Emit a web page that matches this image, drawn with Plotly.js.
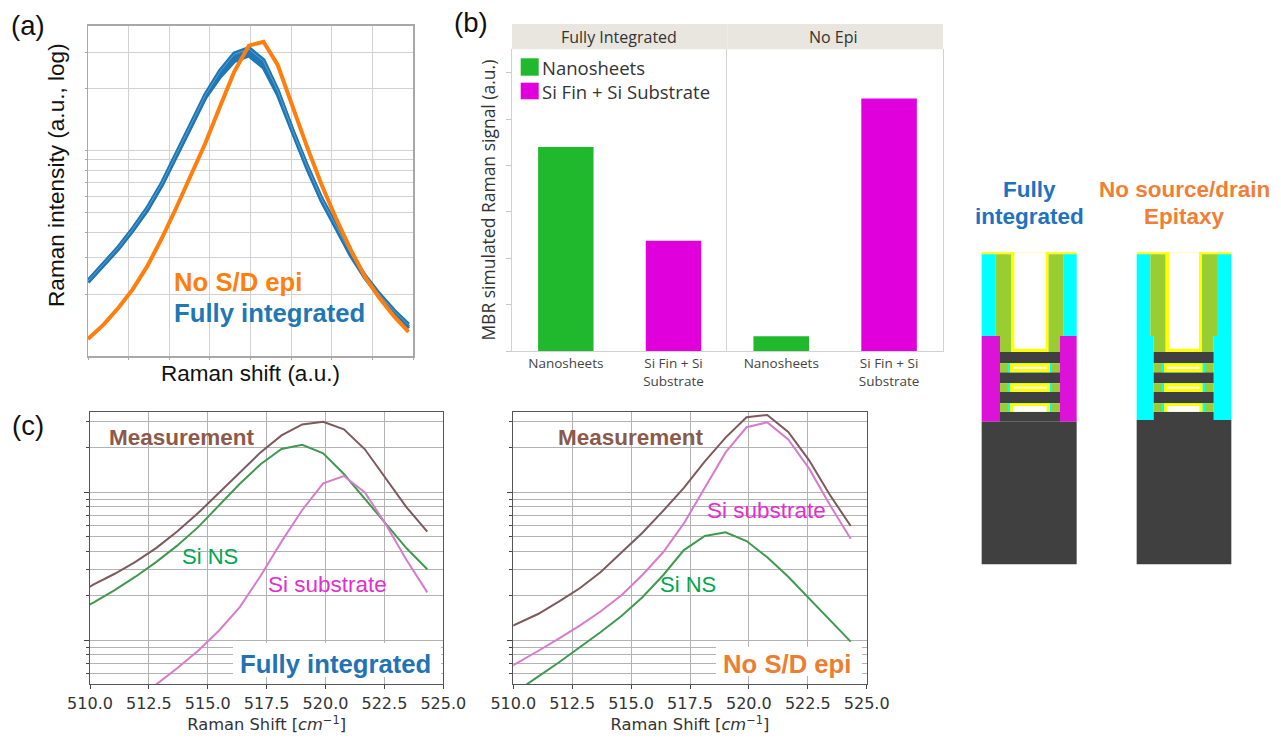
<!DOCTYPE html>
<html>
<head>
<meta charset="utf-8">
<script src="https://cdn.plot.ly/plotly-3.0.1.min.js"></script>
<style>html,body{margin:0;padding:0;background:#fff;overflow:hidden}#chart{width:1281px;height:739px}</style>
</head>
<body>
<div id="chart"></div>
<script>
// ---------- Panel (a): Raman shift (a.u.), intensities read as log10 ----------
const aShift = [0.0,0.39,0.75,1.10,1.46,1.82,2.17,2.53,2.89,3.25,3.60,3.96,4.32,4.67,5.03,5.39,5.75,6.10,6.46,6.82,7.17,7.53,7.89];
const aNoEpiLog = [.083,.154,.235,.324,.437,.574,.720,.874,1.036,1.214,1.383,1.510,1.529,1.416,1.214,1.019,.833,.672,.520,.385,.283,.194,.117];
const aFullyUpperLog = [.366,.448,.530,.619,.720,.842,.980,1.127,1.273,1.388,1.472,1.498,1.440,1.293,1.102,.927,.766,.639,.503,.390,.302,.222,.154];
const aFullyMidLog = [.363,.445,.526,.615,.715,.837,.974,1.120,1.265,1.372,1.453,1.480,1.424,1.286,1.097,.922,.761,.634,.498,.385,.295,.214,.142];
const aFullyLowerLog = [.359,.441,.522,.610,.710,.832,.968,1.113,1.257,1.358,1.434,1.462,1.404,1.272,1.088,.915,.755,.628,.492,.380,.289,.207,.133];
const aFullyLightLog = [.364,.447,.528,.617,.718,.840,.977,1.124,1.270,1.383,1.468,1.494,1.434,1.290,1.100,.925,.764,.637,.501,.388,.300,.220,.151];

// ---------- Panel (b) ----------
const bCategories = ['Nanosheets', 'Si Fin + Si<br>Substrate'];
const bFullyIntegrated = [4.40, 2.38];
const bNoEpi = [0.32, 5.45];
const bColors = ['#20b92e', '#e000dc'];

// ---------- Panel (c) ----------
const cShift = [509.28,510.16,511.05,511.93,512.82,513.70,514.59,515.47,516.36,517.24,518.13,519.01,519.90,520.78,521.67,522.55,523.44,524.32];
const c1MeasLog = [.295,.378,.450,.530,.625,.735,.860,.995,1.135,1.270,1.385,1.459,1.477,1.426,1.291,1.095,.899,.734];
const c1NsLog   = [.182,.257,.340,.430,.530,.640,.765,.910,1.058,1.190,1.293,1.322,1.264,1.124,.955,.786,.622,.480];
const c1SubLog  = [-.76,-.651,-.538,-.414,-.297,-.189,-.070,.065,.225,.435,.667,.881,1.061,1.110,1.0,.786,.543,.324];
const c2MeasLog = [.047,.110,.178,.262,.352,.460,.590,.725,.875,1.030,1.210,1.370,1.507,1.523,1.408,1.218,.982,.773];
const c2NsLog   = [-.44,-.340,-.245,-.150,-.050,.055,.165,.290,.440,.610,.705,.730,.671,.561,.430,.284,.137,-.009];
const c2SubLog  = [-.234,-.155,-.072,.012,.100,.195,.305,.440,.595,.790,1.030,1.270,1.440,1.473,1.358,1.162,.914,.687];

const aGridVals = [2,3,4,5,6,7,8,9,10,20,30];
const cMajorVals = [1,10];
const cMinorVals = [.5,.6,.7,.8,.9,2,3,4,5,6,7,8,9,20,30];
const cTickVals = [510,512.5,515,517.5,520,522.5,525];

// ---------- Schematic rectangles: [x0,y0,x1,y1,colour] in local drawing units ----------
const DARK='#404040', CYAN='#00ffff', OLIVE='#9acd32', YEL='#ffff00', MAG='#dd12d8', WHITE='#ffffff';
function gapFill(x0,xa,xb,xc,xd,x1,y0,y1,openBottom){
  return [
    [x0,y0,x1,y1,OLIVE],
    [xa,y0,xd,y1,CYAN],
    [xb,y0,xc,y1,YEL],
    [xb+10,y0+(openBottom?8:10),xc-10,y1-(openBottom?0:10),WHITE]
  ];
}
const deviceLeft = [
  [65,247,350,253,YEL],
  [65,253,106,498,CYAN],[311,253,350,498,CYAN],
  [106,253,153,498,OLIVE],[265,253,311,498,OLIVE],
  [120,498,153,546,OLIVE],[265,498,300,546,OLIVE],
  [153,247,265,546,YEL],[163,247,257,536,WHITE],
  [65,498,120,755,MAG],[300,498,350,755,MAG],
  [120,546,300,580,DARK],[120,607,300,640,DARK],[120,666,300,700,DARK],[120,725,300,755,DARK],
  ...gapFill(120,143,150,270,275,300,580,607),
  ...gapFill(120,143,150,270,275,300,640,666),
  ...gapFill(120,143,150,270,275,300,700,725,true),
  [65,755,350,1183,DARK]
];
const deviceRight = [
  [530,247,814,253,YEL],
  [530,253,571,498,CYAN],[771,253,814,498,CYAN],
  [571,253,617,498,OLIVE],[725,253,771,498,OLIVE],
  [581,498,617,546,OLIVE],[725,498,761,546,OLIVE],
  [617,247,725,546,YEL],[627,247,717,536,WHITE],
  [530,498,581,750,CYAN],[761,498,814,750,CYAN],
  [581,546,761,580,DARK],[581,607,761,640,DARK],[581,666,761,700,DARK],[581,725,761,750,DARK],
  ...gapFill(581,605,612,728,735,761,580,607),
  ...gapFill(581,605,612,728,735,761,640,666),
  ...gapFill(581,605,612,728,735,761,700,725,true),
  [530,750,814,1183,DARK]
];

// ---------- helpers ----------
const W=1281, H=739;
const ARIAL='"Liberation Sans", Arial, sans-serif', OPEN='"Open Sans", sans-serif', DEJA='"DejaVu Sans", sans-serif';
const dx=(a,b)=>[a/W,b/W];
const dy=(top,bot)=>[1-bot/H,1-top/H];
const toI = arr => arr.map(v=>Math.pow(10,v));
function ann(text,cx,cy,size,color,extra){
  return Object.assign({text,x:cx/W,y:1-cy/H,xref:'paper',yref:'paper',xanchor:'center',yanchor:'middle',
    showarrow:false,font:{family:ARIAL,size,color}},extra||{});
}
function line(x,y,xa,ya,color,width,name){
  return {type:'scatter',mode:'lines',x,y,xaxis:xa,yaxis:ya,name,showlegend:false,hoverinfo:'skip',
    line:{color,width,shape:'linear'}};
}
function bar(cats,vals,xa,ya,name){
  return {type:'bar',x:cats,y:vals,xaxis:xa,yaxis:ya,name,showlegend:false,width:0.515,
    marker:{color:bColors,line:{width:0}},hoverinfo:'skip'};
}
const BROWN='#7d5a5c', GREEN='#3f9a4f', PINK='#d67ccb';

const traces = [
  line(aShift,toI(aFullyUpperLog),'x','y','#1f77b4',4,'Fully integrated'),
  line(aShift,toI(aFullyLowerLog),'x','y','#1f77b4',4,'Fully integrated'),
  line(aShift,toI(aFullyMidLog),'x','y','#1f77b4',4,'Fully integrated'),
  line(aShift,toI(aFullyLightLog),'x','y','#6fa9d4',0.8,'Fully integrated'),
  line(aShift,toI(aNoEpiLog),'x','y','#ff7f0e',4,'No S/D epi'),
  bar(bCategories,bFullyIntegrated,'x2','y2','Fully Integrated'),
  bar(bCategories,bNoEpi,'x3','y3','No Epi'),
  line(cShift,toI(c1NsLog),'x4','y4',GREEN,2,'Si NS'),
  line(cShift,toI(c1SubLog),'x4','y4',PINK,2,'Si substrate'),
  line(cShift,toI(c1MeasLog),'x4','y4',BROWN,2,'Measurement'),
  line(cShift,toI(c2NsLog),'x5','y5',GREEN,2,'Si NS'),
  line(cShift,toI(c2SubLog),'x5','y5',PINK,2,'Si substrate'),
  line(cShift,toI(c2MeasLog),'x5','y5',BROWN,2,'Measurement')
];

const GRIDC='#b2b2b2';
const cXAxis = (dom,anchor) => ({
  domain:dom,anchor,range:[510,525],tickvals:cTickVals,tickformat:'.1f',
  showgrid:true,gridcolor:GRIDC,gridwidth:1,showline:true,mirror:true,linecolor:'#555',linewidth:1,
  ticks:'outside',ticklen:4,tickcolor:'#444',tickfont:{family:DEJA,size:16,color:'#333'},
  title:{text:'Raman Shift [<i>cm</i><sup>−1</sup>]',font:{family:DEJA,size:16.3,color:'#333'},standoff:7},zeroline:false
});
const cYAxis = (anchor) => ({
  domain:dy(411.7,684.3),anchor,type:'log',range:[-0.297,1.545],tickvals:cMajorVals,showticklabels:false,
  showgrid:true,gridcolor:GRIDC,gridwidth:1,ticks:'outside',ticklen:5,tickcolor:'#444',
  minor:{tickvals:cMinorVals,showgrid:true,gridcolor:GRIDC,gridwidth:1,ticks:'outside',ticklen:3,tickcolor:'#444'},
  showline:true,mirror:true,linecolor:'#555',linewidth:1,zeroline:false
});
const bX = (dom,anchor)=>({domain:dom,anchor,type:'category',range:[-0.5,1.5],showgrid:false,zeroline:false,
  showline:true,linecolor:'#d2d2d2',linewidth:1,ticks:'',tickangle:0,tickfont:{family:OPEN,size:13.5,color:'#444'}});

const rect=(x0,y0,x1,y1,fill,stroke)=>({type:'rect',xref:'paper',yref:'paper',x0:x0/W,x1:x1/W,y0:1-y1/H,y1:1-y0/H,
  fillcolor:fill,line:stroke?{color:stroke,width:1.2}:{width:0},layer:'above'});
const devShape = r => rect(960+r[0]/3,170+r[1]/3,960+r[2]/3,170+r[3]/3,r[4]);

const layout = {
  width:W,height:H,margin:{l:0,r:0,t:0,b:0},paper_bgcolor:'#fff',plot_bgcolor:'#fff',showlegend:false,
  xaxis:{domain:dx(88,413),anchor:'y',range:[0,8],dtick:1,tick0:0,showticklabels:false,
    showgrid:true,gridcolor:'#d2d2d2',gridwidth:1,showline:true,mirror:true,linecolor:'#a8a8a8',linewidth:1.5,
    ticks:'outside',ticklen:2,tickcolor:'#a8a8a8',zeroline:false,
    title:{text:'Raman shift (a.u.)',font:{family:ARIAL,size:22.5,color:'#111'},standoff:6}},
  yaxis:{domain:dy(25.7,356),anchor:'x',type:'log',range:[0,1.607],tickvals:aGridVals,showticklabels:false,
    showgrid:true,gridcolor:'#d2d2d2',gridwidth:1,showline:true,mirror:true,linecolor:'#a8a8a8',linewidth:1.5,
    ticks:'outside',ticklen:2,tickcolor:'#a8a8a8',zeroline:false},
  xaxis2:bX(dx(512,727.3),'y2'),
  yaxis2:{domain:dy(49.3,351),anchor:'x2',range:[0,6.51],tickvals:[0,1,2,3,4,5,6],showticklabels:false,showgrid:false,zeroline:false,
    ticks:'outside',ticklen:5,tickcolor:'#c8c8c8',showline:true,linecolor:'#d2d2d2',linewidth:1,
    title:{text:'MBR simulated Raman signal (a.u.)',font:{family:OPEN,size:17.5,color:'#333'},standoff:5}},
  xaxis3:bX(dx(727.3,943),'y3'),
  yaxis3:{domain:dy(49.3,351),anchor:'x3',range:[0,6.51],showticklabels:false,showgrid:false,zeroline:false,ticks:'',
    showline:true,mirror:true,linecolor:'#d2d2d2',linewidth:1},
  xaxis4:cXAxis(dx(90,443.3),'y4'),
  yaxis4:cYAxis('x4'),
  xaxis5:cXAxis(dx(513.3,866.7),'y5'),
  yaxis5:cYAxis('x5'),
  shapes:[
    rect(512,24,727.3,49.3,'#e8e6de'),
    rect(727.3,24,943,49.3,'#e8e6de'),
    rect(520.7,58.3,538.7,75.7,bColors[0]),
    rect(520.7,82.7,538.7,99.3,bColors[1]),
    rect(233,643,441,677,'#ffffff'),
    rect(716,646.7,862,676,'#ffffff'),
    ...deviceLeft.map(devShape),
    ...deviceRight.map(devShape)
  ],
  annotations:[
    ann('(a)',28,25,27.5,'#111'),
    ann('(b)',471,23,27.5,'#111'),
    ann('(c)',28,425,27.5,'#111'),
    ann('Raman intensity (a.u., log)',56,175,22.6,'#111',{textangle:-90}),
    ann('<b>No S/D epi</b>',237.5,281.7,25.7,'#ff7f0e'),
    ann('<b>Fully integrated</b>',269.5,313,25.7,'#1f77b4'),
    ann('Fully Integrated',619,37,16,'#333',{font:{family:OPEN,size:16,color:'#333'}}),
    ann('No Epi',834,37,16,'#333',{font:{family:OPEN,size:16,color:'#333'}}),
    ann('Nanosheets',540,67.7,18.5,'#333',{xanchor:'left',font:{family:OPEN,size:18.5,color:'#333'}}),
    ann('Si Fin + Si Substrate',540,91.7,18.5,'#333',{xanchor:'left',font:{family:OPEN,size:18.5,color:'#333'}}),
    ann('<b>Measurement</b>',181.5,437,22.5,'#8c5a4b'),
    ann('Si NS',210,556,22,'#00a651'),
    ann('Si substrate',327,584,22.5,'#e02fd0'),
    ann('<b>Fully integrated</b>',335.5,664,25.7,'#2272b4'),
    ann('<b>Measurement</b>',631,437,22.5,'#8c5a4b'),
    ann('Si NS',688,584,22,'#00a651'),
    ann('Si substrate',766.7,510.7,22.5,'#e02fd0'),
    ann('<b>No S/D epi</b>',787,664,25.7,'#ed7d31'),
    ann('<b>Fully</b>',1029,190,22.5,'#1f72c0'),
    ann('<b>integrated</b>',1029,217,22.5,'#1f72c0'),
    ann('<b>No source/drain</b>',1184,190,22.5,'#f07f35'),
    ann('<b>Epitaxy</b>',1184,217,22.5,'#f07f35')
  ]
};
Plotly.newPlot('chart',traces,layout,{displayModeBar:false,staticPlot:true});
</script>
</body>
</html>
